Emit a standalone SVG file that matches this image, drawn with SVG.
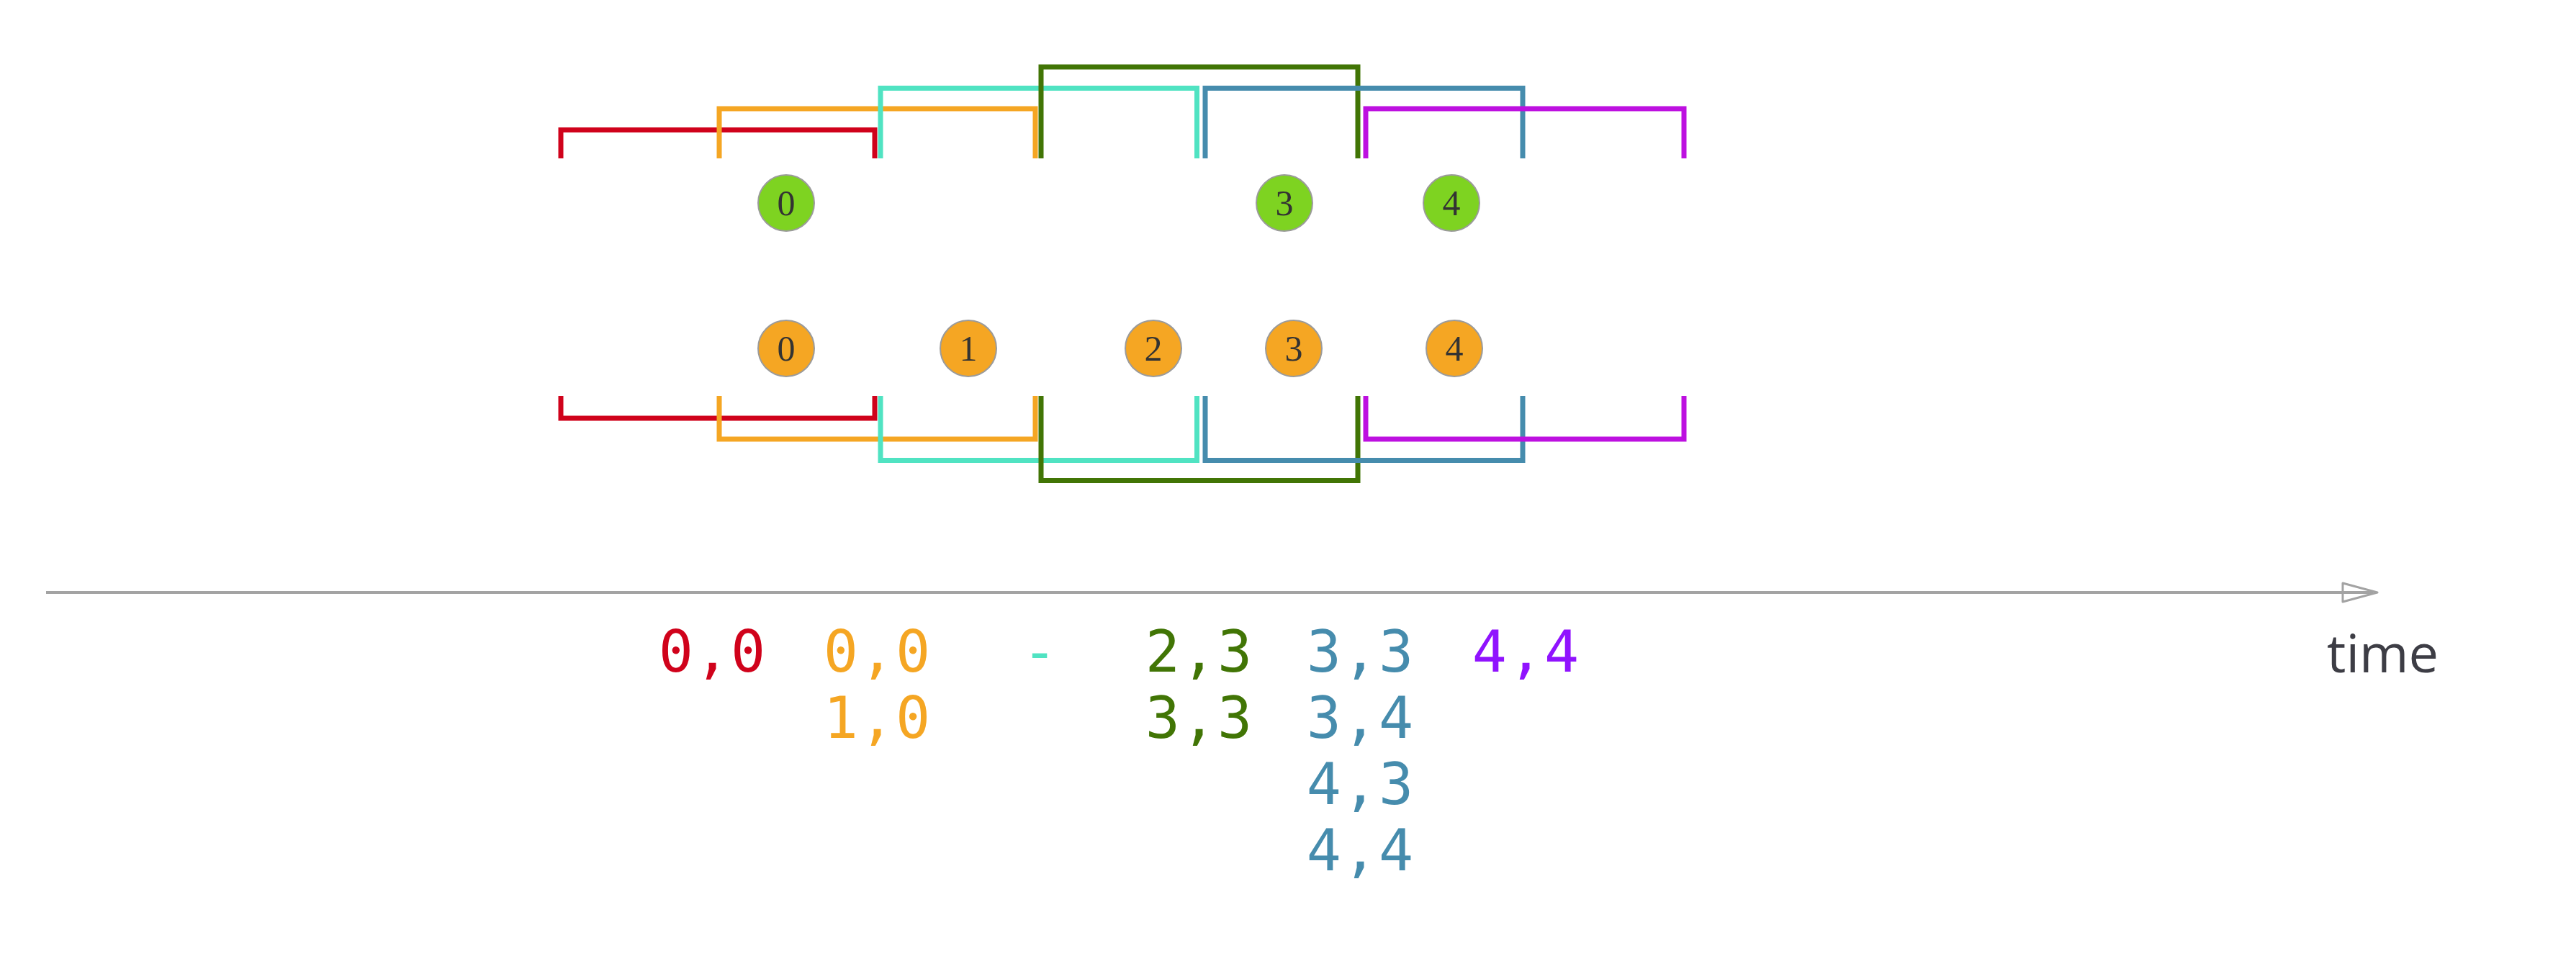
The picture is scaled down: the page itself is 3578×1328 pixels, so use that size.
<svg xmlns="http://www.w3.org/2000/svg" width="3578" height="1328" viewBox="0 0 3578 1328">
<style>
.br{fill:none;stroke-width:7;stroke-linejoin:miter;stroke-linecap:butt}
.c-red{stroke:#d0021b}.c-org{stroke:#f5a623}.c-cyan{stroke:#50e3c2}.c-grn{stroke:#417505}.c-blu{stroke:#468cad}.c-pur{stroke:#bd10e0}
.dot{stroke:#9b9b9b;stroke-width:2}
.g{fill:#7ed321}.o{fill:#f5a623}
.num{font-family:"Liberation Serif","Times New Roman",serif;font-size:50px;fill:#333;text-anchor:middle}
.lab{font-family:"DejaVu Sans Mono","Liberation Mono",monospace;font-size:80px;text-anchor:middle;letter-spacing:2px}
.time{font-family:"Open Sans","Liberation Sans",sans-serif;font-size:74px;fill:#3d3d45}
</style>
<g id="windows-top">
<path class="br c-red" d="M779,220 V180.5 H1215 V220"/>
<path class="br c-org" d="M999,220 V151 H1438 V220"/>
<path class="br c-cyan" d="M1223,220 V122.5 H1662.5 V220"/>
<path class="br c-grn" d="M1446,220 V93 H1886 V220"/>
<path class="br c-blu" d="M1674,220 V122.5 H2115 V220"/>
<path class="br c-pur" d="M1897,220 V151 H2339 V220"/>
</g>
<g id="windows-bottom">
<path class="br c-red" d="M779,550 V581 H1215 V550"/>
<path class="br c-org" d="M999,550 V610 H1438 V550"/>
<path class="br c-cyan" d="M1223,550 V639.5 H1662.5 V550"/>
<path class="br c-grn" d="M1446,550 V667.5 H1886 V550"/>
<path class="br c-blu" d="M1674,550 V639.5 H2115 V550"/>
<path class="br c-pur" d="M1897,550 V610 H2339 V550"/>
</g>
<g id="stream-a">
<g id="a0"><circle class="dot g" cx="1092" cy="282" r="39"/><text class="num" x="1092" y="299">0</text></g>
<g id="a3"><circle class="dot g" cx="1784" cy="282" r="39"/><text class="num" x="1784" y="299">3</text></g>
<g id="a4"><circle class="dot g" cx="2016" cy="282" r="39"/><text class="num" x="2016" y="299">4</text></g>
</g>
<g id="stream-b">
<g id="b0"><circle class="dot o" cx="1092" cy="484" r="39"/><text class="num" x="1092" y="501">0</text></g>
<g id="b1"><circle class="dot o" cx="1345" cy="484" r="39"/><text class="num" x="1345" y="501">1</text></g>
<g id="b2"><circle class="dot o" cx="1602" cy="484" r="39"/><text class="num" x="1602" y="501">2</text></g>
<g id="b3"><circle class="dot o" cx="1797" cy="484" r="39"/><text class="num" x="1797" y="501">3</text></g>
<g id="b4"><circle class="dot o" cx="2020" cy="484" r="39"/><text class="num" x="2020" y="501">4</text></g>
</g>
<g id="connectors">
<line x1="64" y1="823" x2="3296" y2="823" stroke="#a3a3a3" stroke-width="4"/>
<polygon points="3254,810 3302,823 3254,836" fill="none" stroke="#a3a3a3" stroke-width="3" stroke-linejoin="round"/>
</g>
<g id="axis-label"><text class="time" x="3232" y="934">time</text></g>
<g id="results">
<text class="lab" fill="#d0021b" x="990" y="933">0,0</text>
<text class="lab" fill="#f5a623" x="1219" y="933">0,0</text>
<text class="lab" fill="#f5a623" x="1219" y="1025">1,0</text>
<text class="lab" fill="#50e3c2" x="1445" y="933">-</text>
<text class="lab" fill="#417505" x="1666" y="933">2,3</text>
<text class="lab" fill="#417505" x="1666" y="1025">3,3</text>
<text class="lab" fill="#468cad" x="1890" y="933">3,3</text>
<text class="lab" fill="#468cad" x="1890" y="1025">3,4</text>
<text class="lab" fill="#468cad" x="1890" y="1117">4,3</text>
<text class="lab" fill="#468cad" x="1890" y="1209">4,4</text>
<text class="lab" fill="#9013fe" x="2120" y="933">4,4</text>
</g>
</svg>
